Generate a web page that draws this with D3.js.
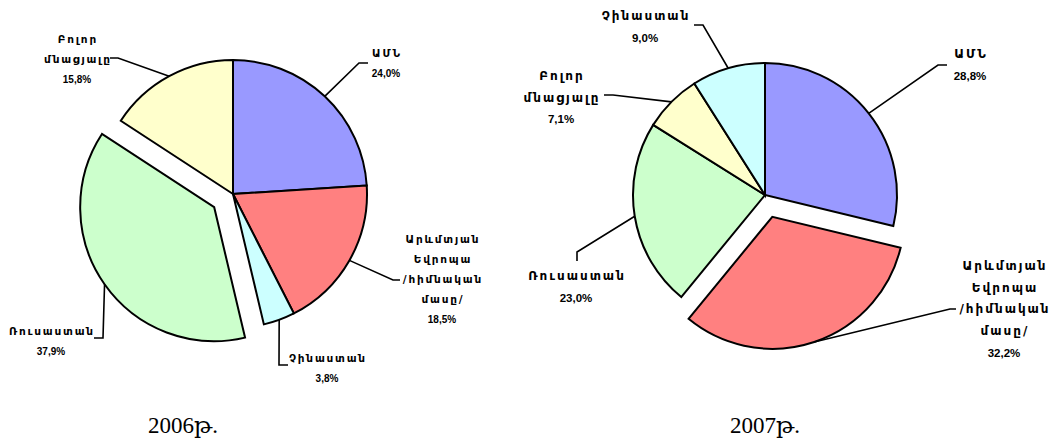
<!DOCTYPE html>
<html>
<head>
<meta charset="utf-8">
<script src="https://cdn.jsdelivr.net/npm/d3@7"></script>
<style>
  html, body { margin: 0; padding: 0; background: #fff; }
  svg { display: block; }
  .cat { font-family: "DejaVu Sans", sans-serif; font-weight: bold; fill: #000; }
  .pct { font-family: "Liberation Sans", Arial, sans-serif; font-weight: bold; fill: #000; }
  .year { font-family: "Liberation Serif", "DejaVu Serif", serif; fill: #000; }
</style>
</head>
<body>
<script>
// data, clockwise from 12 o'clock
var cats2006 = ["ԱՄՆ", "Արևմտյան\nԵվրոպա\n/հիմնական\nմասը/", "Չինաստան", "Ռուսաստան", "Բոլոր\nմնացյալը"];
var vals2006 = [24.0, 18.5, 3.8, 37.9, 15.8];
var cats2007 = ["ԱՄՆ", "Արևմտյան\nԵվրոպա\n/հիմնական\nմասը/", "Ռուսաստան", "Բոլոր\nմնացյալը", "Չինաստան"];
var vals2007 = [28.8, 32.2, 23.0, 7.1, 9.0];
var years = ["2006թ.", "2007թ."];

var colorOf = {
  "ԱՄՆ": "#9999FF",
  "Արևմտյան\nԵվրոպա\n/հիմնական\nմասը/": "#FF8080",
  "Չինաստան": "#CCFFFF",
  "Ռուսաստան": "#CCFFCC",
  "Բոլոր\nմնացյալը": "#FFFFCC"
};

var W = 1057, H = 441;
var svg = d3.select("body").append("svg").attr("width", W).attr("height", H);

var fmt = d3.formatLocale({ decimal: ",", thousands: " ", grouping: [3], currency: ["", ""] }).format(".1f");

// layout: per slice, label text position and leader elbow/end
var charts = [
  {
    cats: cats2006, vals: vals2006, year: years[0], yearX: 183,
    cx: 233, cy: 194, r: 134, explode: { "Ռուսաստան": 23 },
    catSize: 10.5, pctSize: 10, lh: 20, ls: 1.8,
    labels: [
      { x: 386, y: 57, elbow: [359, 63], end: [368, 63] },
      { x: 442, y: 243, elbow: [393, 280], end: [400, 280] },
      { x: 327, y: 362, elbow: [279, 365], end: [288, 365] },
      { x: 51, y: 335, elbow: [103, 338], end: [94, 338] },
      { x: 77, y: 43, elbow: [118, 58], end: [110, 58] }
    ]
  },
  {
    cats: cats2007, vals: vals2007, year: years[1], yearX: 765,
    cx: 765, cy: 195, r: 132, explode: { "Արևմտյան\nԵվրոպա\n/հիմնական\nմասը/": 23 },
    catSize: 12, pctSize: 11.5, lh: 21.7, ls: 2,
    labels: [
      { x: 970, y: 58, elbow: [938, 65], end: [947, 65] },
      { x: 1004, y: 270, elbow: [950, 309], end: [956, 309] },
      { x: 576, y: 280, elbow: [577, 252], end: [577, 261] },
      { x: 561, y: 80, elbow: [613, 95], end: [604, 95] },
      { x: 645, y: 20, elbow: [703, 25], end: [694, 25] }
    ]
  }
];

var pie = d3.pie().sort(null).value(function(d) { return d; });

charts.forEach(function(c) {
  var arcs = pie(c.vals);
  var arc = d3.arc().innerRadius(0).outerRadius(c.r);
  var g = svg.append("g");

  arcs.forEach(function(a, i) {
    var name = c.cats[i];
    var mid = (a.startAngle + a.endAngle) / 2;
    var off = c.explode[name] || 0;
    var ox = c.cx + off * Math.sin(mid), oy = c.cy - off * Math.cos(mid);

    g.append("path")
      .attr("d", arc(a))
      .attr("transform", "translate(" + ox + "," + oy + ")")
      .attr("fill", colorOf[name])
      .attr("stroke", "#000")
      .attr("stroke-width", 2)
      .attr("stroke-linejoin", "miter");

    var L = c.labels[i];
    var sx = ox + c.r * Math.sin(mid), sy = oy - c.r * Math.cos(mid);
    g.append("path")
      .attr("d", d3.line()([[sx, sy], L.elbow, L.end]))
      .attr("fill", "none")
      .attr("stroke", "#000")
      .attr("stroke-width", 1.6);

    var lines = name.split("\n");
    lines.forEach(function(t, k) {
      g.append("text").attr("class", "cat")
        .attr("x", L.x + c.ls / 2).attr("y", L.y + k * c.lh)
        .attr("text-anchor", "middle")
        .attr("font-size", c.catSize)
        .attr("letter-spacing", c.ls)
        .text(t);
    });
    g.append("text").attr("class", "pct")
      .attr("x", L.x).attr("y", L.y + lines.length * c.lh)
      .attr("text-anchor", "middle")
      .attr("font-size", c.pctSize)
      .text(fmt(c.vals[i]) + "%");
  });

  svg.append("text").attr("class", "year")
    .attr("x", c.yearX).attr("y", 433)
    .attr("text-anchor", "middle")
    .attr("font-size", 23)
    .text(c.year);
});
</script>
</body>
</html>
